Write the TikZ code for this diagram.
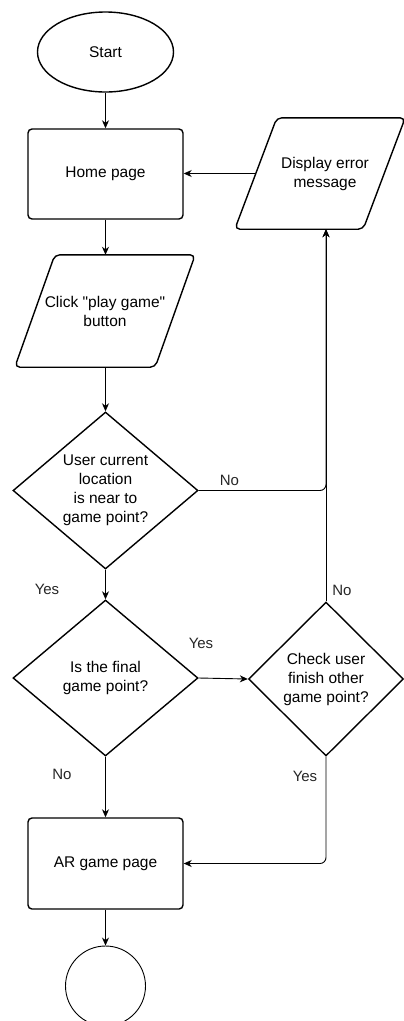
\documentclass[tikz,border=0pt]{standalone}
\usepackage{fontspec}
\setmainfont{Liberation Sans}[Ligatures=TeXOff]
\usetikzlibrary{shapes.geometric,arrows.meta,calc}
\begin{document}
\begin{tikzpicture}[x=1pt,y=-1pt,
  every node/.style={font=\fontsize{15.5}{19}\selectfont, align=center},
  shapeline/.style={draw=black, line width=1.4pt},
  procbox/.style={shapeline, rectangle, rounded corners=4pt, minimum width=155pt, minimum height=90pt, inner sep=0pt},
  iobox/.style={rectangle, inner sep=0pt},
  decision/.style={shapeline, diamond, inner sep=0pt},
  conn/.style={draw=black, line width=0.9pt, -{Stealth[length=8pt,width=7pt,inset=2.5pt]}},
  lbl/.style={font=\fontsize{15}{18}\selectfont, text=black!85}
]
\useasboundingbox (0,0) rectangle (404,1021);

% flow nodes
\node[ellipse, shapeline, minimum width=136pt, minimum height=80pt] (start) at (105.5,52) {Start};
\node[procbox] (home) at (105.5,174) {Home page};
\node[iobox, minimum width=180pt, minimum height=112pt] (click) at (105,311) {Click "play game"\\button};
\node[iobox, minimum width=170pt, minimum height=111pt] (err) at (325,173.5) {Display error\\message};
\node[decision, minimum width=185pt, minimum height=157pt] (d1) at (105.5,490.5) {User current\\location\\is near to\\game point?};
\node[decision, minimum width=185pt, minimum height=156pt] (d2) at (105.5,678) {Is the final\\game point?};
\node[decision, minimum width=155pt, minimum height=154pt] (d3) at (326,679) {Check user\\finish other\\game point?};
\node[procbox, minimum height=91pt] (ar) at (105.5,863.5) {AR game page};
\node[circle, draw=black, line width=0.9pt, minimum size=80pt] (end) at (105.5,986) {};

% parallelogram outlines (input/output boxes)
\draw[shapeline, rounded corners=5pt]
  (click.south west) -- ($(click.north west)+(40,0)$) -- (click.north east)
  -- ($(click.south east)+(-40,0)$) -- cycle;
\draw[shapeline, rounded corners=5pt]
  ($(err.south west)+(-5,0)$) -- ($(err.north west)+(37,0)$) -- ($(err.north east)+(-5,0)$)
  -- ($(err.south east)+(-47,0)$) -- cycle;
\coordinate (errw) at ($(err.west)+(16,0)$);

% connectors
\draw[conn] (start) -- (home);
\draw[conn] (home) -- (click.north -| home.south);
\draw[conn] (click.south -| d1.north) -- (d1);
\draw[conn] (d1) -- (d2);
\draw[conn] (d2) -- (ar);
\draw[conn] (ar) -- (end);
\draw[conn] (errw) -- (errw -| home.east);
\coordinate (errin) at (d3.north |- err.south);
\draw[conn, rounded corners=6pt] (d1.east) -| (errin);
\draw[conn] (d3.north) -- (errin);
\draw[conn] (d2.east) -- (d3.west);
\draw[conn, rounded corners=6pt] (d3.south) |- (ar.east);

% branch labels
\node[lbl] (l1) at (229.5,480) {No};
\node[lbl] (l2) at (47,589) {Yes};
\node[lbl] (l3) at (342,590) {No};
\node[lbl] (l4) at (201,643) {Yes};
\node[lbl] (l5) at (62,774) {No};
\node[lbl] (l6) at (305,776) {Yes};
\end{tikzpicture}
\end{document}
